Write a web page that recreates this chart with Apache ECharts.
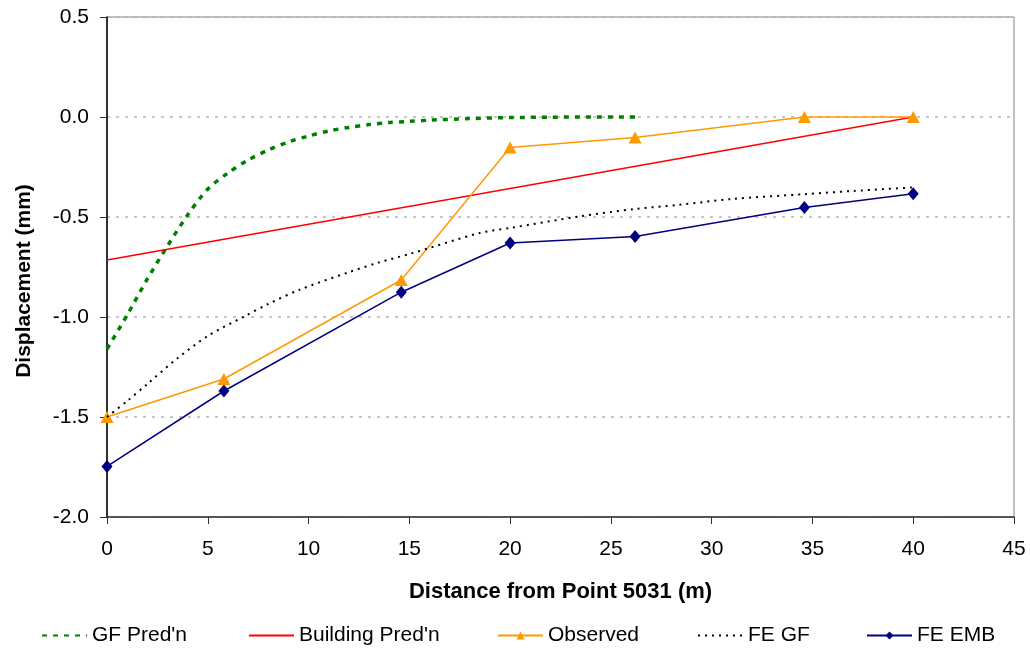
<!DOCTYPE html>
<html>
<head>
<meta charset="utf-8">
<title>Displacement vs distance</title>
<script src="https://cdn.jsdelivr.net/npm/echarts@6/dist/echarts.min.js"></script>
<style>
  html, body { margin: 0; padding: 0; background: #ffffff; }
  #chart { width: 1030px; height: 649px; }
</style>
</head>
<body>
<div id="chart"></div>
<script>
// Survey point distances (m) shared by the observed and FE embankment results
const pointDistances = [0, 5.8, 14.6, 20, 26.2, 34.6, 40];
const observedValues = [-1.5, -1.31, -0.815, -0.153, -0.103, 0, 0];
const feEmbValues = [-1.747, -1.37, -0.876, -0.63, -0.597, -0.452, -0.384];

// Greenfield prediction curve
const gfDistances = [0, 1, 2, 3, 4, 5, 6, 7, 8, 9, 10, 11, 12, 13, 14, 15, 16, 18, 20, 22, 24, 26.2];
const gfValues = [-1.16, -0.99, -0.81, -0.645, -0.49, -0.36, -0.28, -0.215, -0.165, -0.125,
                  -0.095, -0.07, -0.052, -0.038, -0.028, -0.022, -0.016, -0.008, -0.003, -0.001, 0, 0];

// Building prediction (straight line)
const buildingDistances = [0, 40];
const buildingValues = [-0.715, 0];

// FE greenfield curve
const feGfDistances = [0, 1, 2, 3.45, 5, 6.76, 8, 9.57, 12, 13.5, 15, 18.5, 20, 23.45, 26.2, 28.4, 31, 34.6, 37, 40];
const feGfValues = [-1.5, -1.42, -1.335, -1.21, -1.095, -1.0, -0.935, -0.863, -0.776, -0.727,
                    -0.685, -0.58, -0.555, -0.497, -0.46, -0.439, -0.41, -0.386, -0.37, -0.352];

// Axis ticks
const xTicks = { min: 0, max: 45, step: 5 };
const yTicks = { min: -2.0, max: 0.5, step: 0.5 };

const pairs = (xs, ys) => xs.map((x, i) => [x, ys[i]]);

const FONT = '"Liberation Sans", Arial, sans-serif';

// One legend block per series, laid out across the bottom
const legendSpots = [
  { name: "GF Pred'n", left: 41, marker: false },
  { name: "Building Pred'n", left: 248, marker: false },
  { name: 'Observed', left: 497, marker: true },
  { name: 'FE GF', left: 697, marker: false },
  { name: 'FE EMB', left: 866, marker: true }
];

const chart = echarts.init(document.getElementById('chart'), null, { renderer: 'canvas' });

chart.setOption({
  backgroundColor: '#ffffff',
  animation: false,
  grid: {
    left: 107, right: 16, top: 17, bottom: 132,
    show: true, borderColor: '#808080', borderWidth: 1, backgroundColor: 'transparent'
  },
  legend: legendSpots.map(l => ({
    data: [l.name],
    left: l.left,
    top: 625,
    itemWidth: 45,
    itemHeight: 10,
    padding: 0,
    itemStyle: l.marker ? {} : { opacity: 0 },
    textStyle: { fontFamily: FONT, fontSize: 21, color: '#000' }
  })),
  xAxis: {
    type: 'value',
    min: xTicks.min, max: xTicks.max, interval: xTicks.step,
    name: 'Distance from Point 5031 (m)',
    nameLocation: 'middle',
    nameGap: 64,
    nameTextStyle: { fontFamily: FONT, fontSize: 22, fontWeight: 'bold', color: '#000' },
    axisLine: { show: true, onZero: false, lineStyle: { color: '#333', width: 1.5 } },
    axisTick: { show: true, inside: false, length: 7, lineStyle: { color: '#333', width: 1 } },
    axisLabel: { fontFamily: FONT, fontSize: 21, color: '#000', margin: 22 },
    splitLine: { show: false }
  },
  yAxis: {
    type: 'value',
    min: yTicks.min, max: yTicks.max, interval: yTicks.step,
    axisLine: { show: true, onZero: false, lineStyle: { color: '#000', width: 1.5 } },
    axisTick: { show: true, inside: false, length: 7, lineStyle: { color: '#333', width: 1 } },
    axisLabel: {
      fontFamily: FONT, fontSize: 21, color: '#000', margin: 18,
      formatter: v => v.toFixed(1)
    },
    splitLine: { show: true, lineStyle: { color: '#b3b3b3', width: 1.5, type: [3, 6] } }
  },
  graphic: [{
    type: 'text',
    x: 24, y: 281,
    rotation: Math.PI / 2,
    style: {
      text: 'Displacement (mm)',
      font: 'bold 21px ' + FONT,
      fill: '#000',
      align: 'center',
      verticalAlign: 'middle'
    }
  }],
  series: [
    {
      name: "GF Pred'n",
      type: 'line',
      data: pairs(gfDistances, gfValues),
      smooth: 0.3,
      symbol: 'none',
      color: '#008000',
      lineStyle: { color: '#008000', width: 3.5, type: [5, 6] },
      z: 2
    },
    {
      name: "Building Pred'n",
      type: 'line',
      data: pairs(buildingDistances, buildingValues),
      symbol: 'none',
      color: '#ff0000',
      lineStyle: { color: '#ff0000', width: 1.5 },
      z: 3
    },
    {
      name: 'Observed',
      type: 'line',
      data: pairs(pointDistances, observedValues),
      symbol: 'triangle',
      symbolSize: [13, 12],
      color: '#ff9900',
      itemStyle: { color: '#ff9900' },
      lineStyle: { color: '#ff9900', width: 1.5 },
      z: 4
    },
    {
      name: 'FE GF',
      type: 'line',
      data: pairs(feGfDistances, feGfValues),
      smooth: 0.3,
      symbol: 'none',
      color: '#000000',
      lineStyle: { color: '#000000', width: 2, type: [2, 5] },
      z: 5
    },
    {
      name: 'FE EMB',
      type: 'line',
      data: pairs(pointDistances, feEmbValues),
      symbol: 'diamond',
      symbolSize: [11, 13],
      color: '#000080',
      itemStyle: { color: '#000080' },
      lineStyle: { color: '#000080', width: 1.5 },
      z: 6
    }
  ]
});
</script>
</body>
</html>
